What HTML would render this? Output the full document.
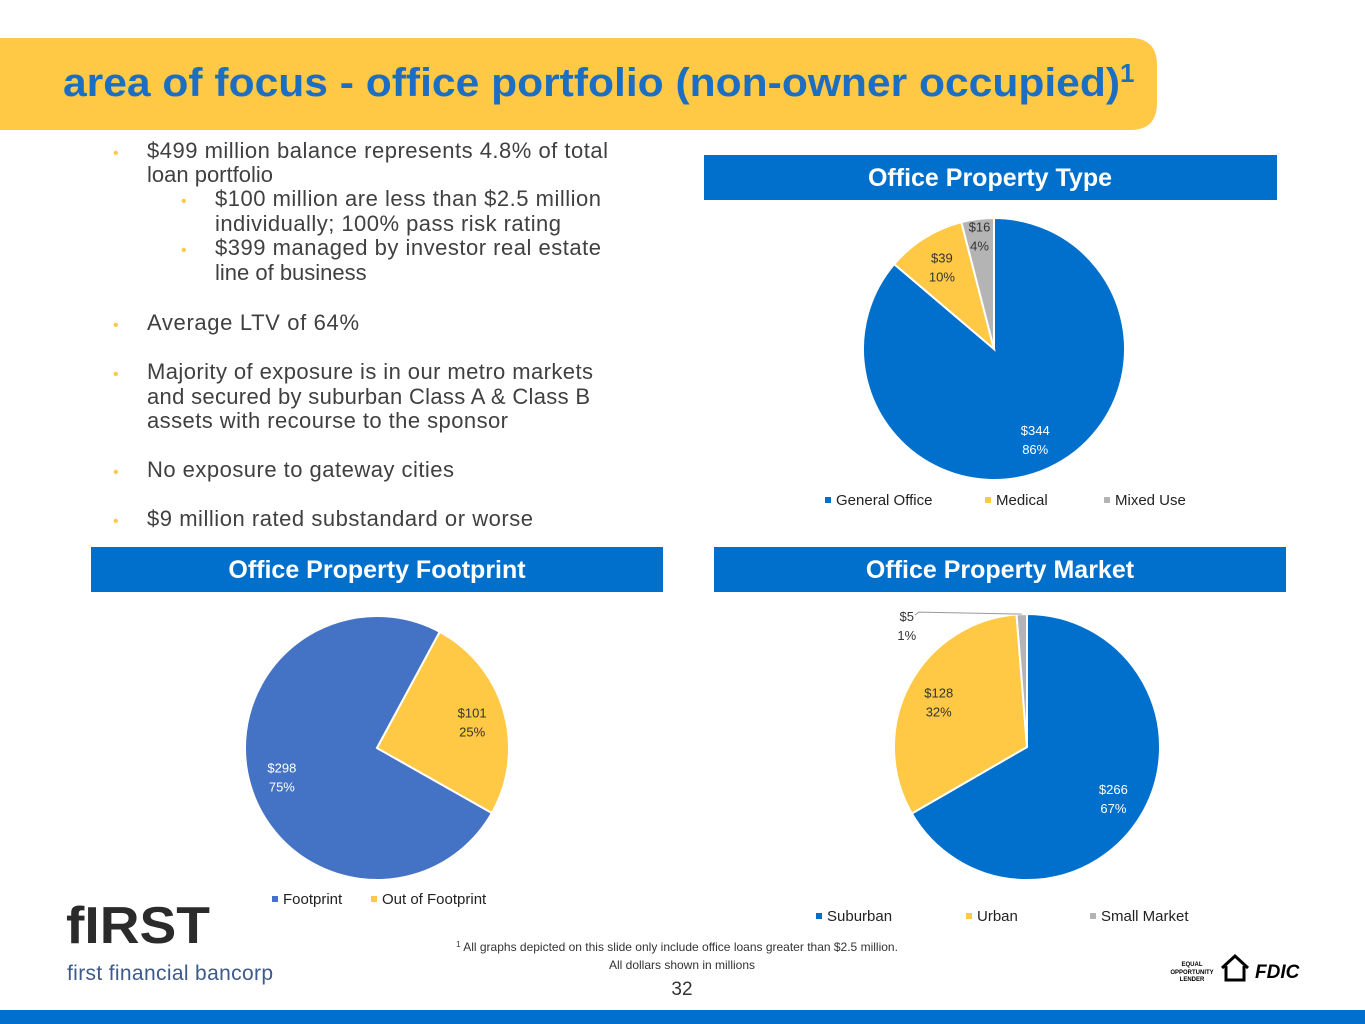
<!DOCTYPE html>
<html><head><meta charset="utf-8"><style>
body{margin:0;width:1365px;height:1024px;overflow:hidden;background:#fff;font-family:"Liberation Sans",sans-serif;}
svg{display:block}
</style></head><body>
<svg width="1365" height="1024" xmlns="http://www.w3.org/2000/svg" id="page">
<path d="M0 38 H1130 Q1157 38 1157 65 V103 Q1157 130 1130 130 H0 Z" fill="#FFC845"/>
<text x="63" y="96" font-size="40" font-weight="bold" fill="#1B6EC2" textLength="1057" lengthAdjust="spacingAndGlyphs">area of focus - office portfolio (non-owner occupied)</text>
<text x="1120" y="82" font-size="26" font-weight="bold" fill="#1B6EC2">1</text>
<g font-size="22" fill="#404040">
<g fill="#FFC845" font-size="16"><text x="113" y="158">•</text><text x="181" y="206">•</text><text x="181" y="255">•</text><text x="113" y="330">•</text><text x="113" y="379">•</text><text x="113" y="477">•</text><text x="113" y="526">•</text></g>
<text x="147" y="158" textLength="461">$499 million balance represents 4.8% of total</text>
<text x="147" y="182">loan portfolio</text>
<text x="215" y="206" textLength="386">$100 million are less than $2.5 million</text>
<text x="215" y="231" textLength="346">individually; 100% pass risk rating</text>
<text x="215" y="255" textLength="386">$399 managed by investor real estate</text>
<text x="215" y="280">line of business</text>
<text x="147" y="330" textLength="212">Average LTV of 64%</text>
<text x="147" y="379" textLength="446">Majority of exposure is in our metro markets</text>
<text x="147" y="404" textLength="443">and secured by suburban Class A &amp; Class B</text>
<text x="147" y="428" textLength="361">assets with recourse to the sponsor</text>
<text x="147" y="477" textLength="307">No exposure to gateway cities</text>
<text x="147" y="526" textLength="386">$9 million rated substandard or worse</text>
</g>
<rect x="704" y="155" width="573" height="45" fill="#0070CC"/>
<text x="990" y="186" font-size="25" font-weight="bold" fill="#fff" text-anchor="middle">Office Property Type</text>
<rect x="91" y="547" width="572" height="45" fill="#0070CC"/>
<text x="377" y="578" font-size="25" font-weight="bold" fill="#fff" text-anchor="middle">Office Property Footprint</text>
<rect x="714" y="547" width="572" height="45" fill="#0070CC"/>
<text x="1000" y="578" font-size="25" font-weight="bold" fill="#fff" text-anchor="middle">Office Property Market</text>
<g id="charts"></g>
<text x="66" y="943" font-size="52" font-weight="bold" fill="#2b2b2b" textLength="144" lengthAdjust="spacingAndGlyphs">fIRST</text>
<text x="67" y="980" font-size="21" fill="#3d5a8a" textLength="206">first financial bancorp</text>
<text x="677" y="951" font-size="12" fill="#333" text-anchor="middle"><tspan font-size="8" dy="-4">1</tspan><tspan dy="4"> All graphs depicted on this slide only include office loans greater than $2.5 million.</tspan></text>
<text x="682" y="969" font-size="12" fill="#333" text-anchor="middle">All dollars shown in millions</text>
<text x="682" y="995" font-size="19" fill="#333" text-anchor="middle">32</text>
<g>
<text x="1192" y="966" font-size="6" font-weight="bold" text-anchor="middle">EQUAL</text>
<text x="1192" y="974" font-size="6" font-weight="bold" text-anchor="middle">OPPORTUNITY</text>
<text x="1192" y="981" font-size="6" font-weight="bold" text-anchor="middle">LENDER</text>
<path d="M1222 968 L1235 956 L1248 968 M1226 966 V980 H1244 V966" fill="none" stroke="#000" stroke-width="3"/>
<text x="1255" y="978" font-size="19" font-weight="bold" font-style="italic">FDIC</text>
</g>
<rect x="0" y="1010" width="1365" height="14" fill="#0070CC"/>
</svg>
<script>
const typeCats=["General Office","Medical","Mixed Use"];
const typeVals=[344,39,16];
const typePcts=["86%","10%","4%"];
const footCats=["Footprint","Out of Footprint"];
const footVals=[298,101];
const footPcts=["75%","25%"];
const mktCats=["Suburban","Urban","Small Market"];
const mktVals=[266,128,5];
const mktPcts=["67%","32%","1%"];
const NS="http://www.w3.org/2000/svg";
const g=document.getElementById("charts");
function mk(tag,attrs,parent){const e=document.createElementNS(NS,tag);for(const k in attrs)e.setAttribute(k,attrs[k]);(parent||g).appendChild(e);return e;}
function pie(name,cx,cy,r,start,cats,vals,pcts,colors,labelColors,legY,legX){
  const grp=mk("g",{});
  
  
  const tot=vals.reduce((a,b)=>a+b,0);
  let a=start;
  vals.forEach((v,i)=>{
    const frac=v/tot,span=frac*360;
    const a0=a*Math.PI/180,a1=(a+span)*Math.PI/180;
    const x0=cx+r*Math.sin(a0),y0=cy-r*Math.cos(a0),x1=cx+r*Math.sin(a1),y1=cy-r*Math.cos(a1);
    const p=mk("path",{d:`M${cx} ${cy} L${x0} ${y0} A${r} ${r} 0 ${span>180?1:0} 1 ${x1} ${y1} Z`,fill:colors[i],stroke:"#fff","stroke-width":2},grp);
    
    
    const m=(a+span/2)*Math.PI/180;
    let lx,ly;
    if(frac<0.02){
      const ex=cx+r*Math.sin(m),ey=cy-r*Math.cos(m);
      lx=ex-115;ly=ey+10;
      mk("polyline",{points:`${lx+8},${ly-9} ${lx+12},${ly-12} ${ex},${ey}`,fill:"none",stroke:"#999","stroke-width":1},grp);
    }else{
      const lr=r*(frac<0.05?0.88:0.75);
      lx=cx+lr*Math.sin(m);ly=cy-lr*Math.cos(m);
    }
    const t=mk("text",{x:lx,y:ly-3,"font-size":13,fill:labelColors[i],"text-anchor":"middle"},grp);
    
    
    t.textContent="$"+v;
    const t2=mk("text",{x:lx,y:ly+16,"font-size":13,fill:labelColors[i],"text-anchor":"middle"},grp);
    t2.textContent=pcts[i];
    a+=span;
  });
  cats.forEach((c,i)=>{
    const lg=mk("g",{},grp);
    
    
    mk("rect",{x:legX[i],y:legY-9,width:6,height:6,fill:colors[i]},lg);
    const t=mk("text",{x:legX[i]+11,y:legY-1,"font-size":15,fill:"#222"},lg);
    t.textContent=c;
  });
}
pie("chart-property-type",994,349,131,0,typeCats,typeVals,typePcts,["#0070CC","#FFC845","#B4B4B4"],["#fff","#333","#333"],506,[825,985,1104]);
pie("chart-property-footprint",377,748,132,119.5,footCats,footVals,footPcts,["#4472C4","#FFC845"],["#fff","#333"],905,[272,371]);
pie("chart-property-market",1027,747,133,0,mktCats,mktVals,mktPcts,["#0070CC","#FFC845","#B4B4B4"],["#fff","#333","#333"],922,[816,966,1090]);
</script>
</body></html>
